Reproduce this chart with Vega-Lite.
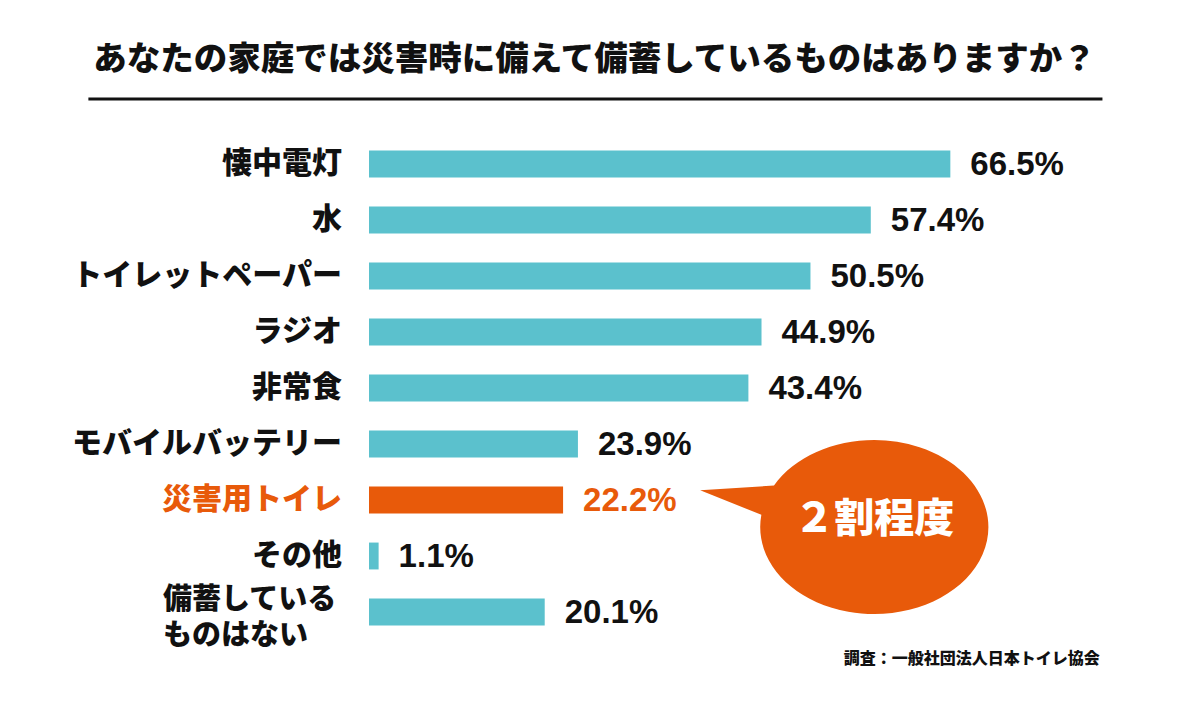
{
  "$schema": "https://vega.github.io/schema/vega-lite/v6.json",
  "width": 813,
  "height": 504,
  "autosize": {"type": "none"},
  "padding": {"left": 369, "top": 136, "right": 0, "bottom": 69},
  "background": "white",
  "config": {"view": {"stroke": null}, "font": "Noto Sans CJK JP"},
  "title": {
    "text": "あなたの家庭では災害時に備えて備蓄しているものはありますか？",
    "font": "Noto Sans CJK JP",
    "fontSize": 33.5,
    "fontWeight": 900,
    "color": "#111111",
    "anchor": "middle",
    "frame": "group",
    "dx": -181,
    "offset": 20
  },
  "data": {
    "values": [
      {"item": "懐中電灯", "pct": 66.5},
      {"item": "水", "pct": 57.4},
      {"item": "トイレットペーパー", "pct": 50.5},
      {"item": "ラジオ", "pct": 44.9},
      {"item": "非常食", "pct": 43.4},
      {"item": "モバイルバッテリー", "pct": 23.9},
      {"item": "災害用トイレ", "pct": 22.2},
      {"item": "その他", "pct": 1.1},
      {"item": "備蓄している\nものはない", "pct": 20.1}
    ]
  },
  "encoding": {
    "y": {
      "field": "item",
      "type": "nominal",
      "sort": null,
      "axis": null,
      "scale": {"paddingInner": 0.52, "paddingOuter": 0.26}
    }
  },
  "layer": [
    {
      "mark": {"type": "bar", "cornerRadius": 0},
      "encoding": {
        "x": {"field": "pct", "type": "quantitative", "axis": null, "scale": {"domain": [0, 93], "nice": false, "zero": true}},
        "color": {
          "condition": {"test": "datum.item === '災害用トイレ'", "value": "#e85a0a"},
          "value": "#5bc1cd"
        }
      }
    },
    {
      "transform": [{"calculate": "format(datum.pct, '.1f') + '%'", "as": "label"}],
      "mark": {"type": "text", "align": "left", "baseline": "middle", "dx": 20, "dy": 1, "fontSize": 33, "fontWeight": "bold", "font": "Liberation Sans"},
      "encoding": {
        "x": {"field": "pct", "type": "quantitative"},
        "text": {"field": "label"},
        "color": {
          "condition": {"test": "datum.item === '災害用トイレ'", "value": "#e85a0a"},
          "value": "#111111"
        }
      }
    },
    {
      "transform": [{"filter": "indexof(datum.item, '\\n') < 0"}],
      "mark": {"type": "text", "align": "right", "baseline": "middle", "dx": -27, "fontSize": 30, "fontWeight": 900, "font": "Noto Sans CJK JP"},
      "encoding": {
        "x": {"datum": 0, "type": "quantitative"},
        "text": {"field": "item"},
        "color": {
          "condition": {"test": "datum.item === '災害用トイレ'", "value": "#e85a0a"},
          "value": "#111111"
        }
      }
    },
    {
      "transform": [{"filter": "indexof(datum.item, '\\n') >= 0"}],
      "mark": {"type": "text", "align": "left", "baseline": "middle", "dx": -206, "dy": -12, "lineBreak": "\n", "lineHeight": 36, "fontSize": 29, "fontWeight": 900, "font": "Noto Sans CJK JP", "color": "#111111"},
      "encoding": {
        "x": {"datum": 0, "type": "quantitative"},
        "text": {"field": "item"}
      }
    },
    {
      "data": {"values": [{"note": "rule"}]},
      "mark": {"type": "rule", "color": "#111111", "strokeWidth": 3, "yOffset": -65},
      "encoding": {
        "x": {"datum": -32.1, "type": "quantitative"},
        "x2": {"datum": 83.9},
        "y": {"datum": "懐中電灯"}
      }
    },
    {
      "data": {"values": [{"note": "２割程度"}]},
      "mark": {
        "type": "point",
        "filled": true,
        "opacity": 1,
        "color": "#e85a0a",
        "size": 211600,
        "yOffset": 27,
        "shape": "M -0.436 -0.180 L -0.757 -0.160 L -0.491 -0.053 A 0.496 0.378 0 1 0 -0.436 -0.180 Z"
      },
      "encoding": {
        "x": {"datum": 57.8, "type": "quantitative"},
        "y": {"datum": "災害用トイレ"}
      }
    },
    {
      "data": {"values": [{"note": "２割程度"}]},
      "mark": {"type": "text", "align": "center", "baseline": "middle", "yOffset": 20, "fontSize": 40, "fontWeight": 900, "font": "Noto Sans CJK JP", "color": "white"},
      "encoding": {
        "x": {"datum": 57.8, "type": "quantitative"},
        "y": {"datum": "災害用トイレ"},
        "text": {"field": "note"}
      }
    },
    {
      "data": {"values": [{"note": "調査：一般社団法人日本トイレ協会"}]},
      "mark": {"type": "text", "align": "right", "baseline": "middle", "yOffset": 47, "fontSize": 16, "fontWeight": 900, "font": "Noto Sans CJK JP", "color": "#111111"},
      "encoding": {
        "x": {"datum": 83.6, "type": "quantitative"},
        "y": {"datum": "備蓄している\nものはない"},
        "text": {"field": "note"}
      }
    }
  ]
}
